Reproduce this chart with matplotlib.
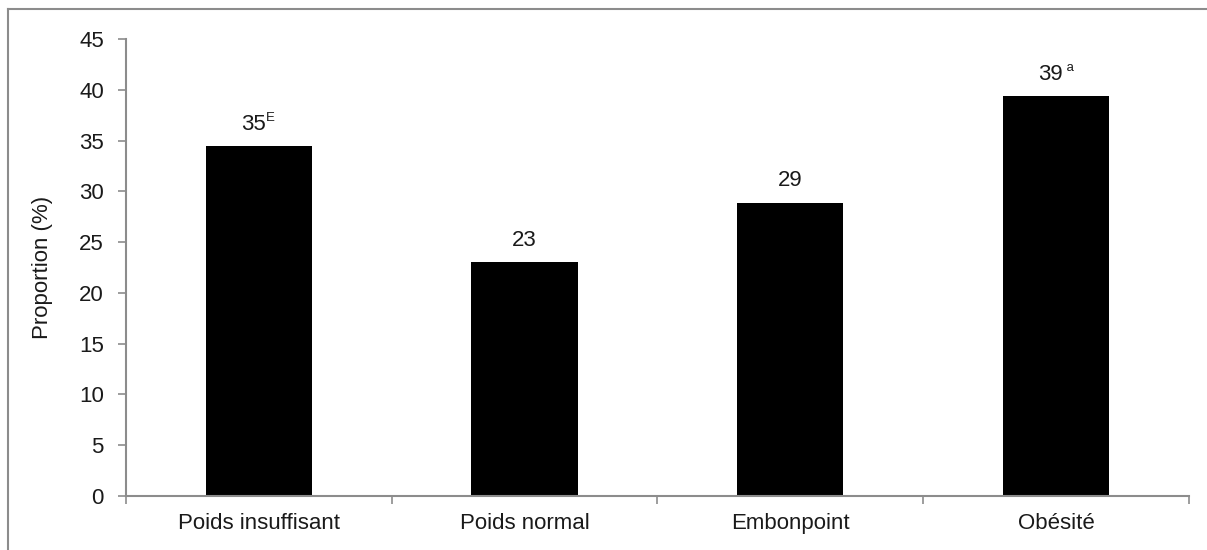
import matplotlib.pyplot as plt
from matplotlib.lines import Line2D

# Data
categories = ['Poids insuffisant', 'Poids normal', 'Embonpoint', 'Obésité']
values = [34.5, 23.0, 28.9, 39.4]
labels = ['35', '23', '29', '39']
notes = ['E', '', '', ' a']

plt.rcParams['font.family'] = ['Liberation Sans', 'DejaVu Sans']

grey = '#8c8c8c'
txt = '#1a1a1a'
fs = 16
fig = plt.figure(figsize=(12.07, 5.5), dpi=100)
ax = fig.add_axes([0.1044, 0.0982, 0.8806, 0.8308])

x = list(range(len(categories)))
ax.bar(x, values, width=0.4, color='black', zorder=2)

ax.set_xlim(-0.5, len(categories) - 0.5)
ax.set_ylim(0, 45)
ax.set_yticks(range(0, 50, 5))
ax.set_xticks([i - 0.5 for i in range(len(categories) + 1)], minor=False)
ax.set_xticklabels([])
ax.set_xticks(x, minor=True)
ax.set_xticklabels(categories, minor=True, fontsize=fs, color=txt)
ax.tick_params(axis='x', which='minor', length=0, pad=12)
ax.tick_params(axis='x', which='major', length=6, color=grey, width=1.2)
ax.tick_params(axis='y', length=6, color=grey, width=1.2, labelsize=fs,
               labelcolor=txt, pad=10)

for s in ['top', 'right']:
    ax.spines[s].set_visible(False)
for s in ['left', 'bottom']:
    ax.spines[s].set_color(grey)
    ax.spines[s].set_linewidth(1.5)

ax.set_ylabel('Proportion (%)', fontsize=fs, color=txt, labelpad=19)

# value labels with superscript notes
for xi, v, lab, note in zip(x, values, labels, notes):
    shift = -4 if note else 0
    t = ax.annotate(lab, xy=(xi, v), xytext=(shift, 8), textcoords='offset points',
                    ha='center', va='bottom', fontsize=fs, color=txt)
    if note:
        ax.annotate(note, xy=(1, 1), xycoords=t, xytext=(0, 1),
                    textcoords='offset points', ha='left', va='top',
                    fontsize=9.5, color=txt)

# partial frame around the chart
fig.add_artist(Line2D([8 / 1207, 8 / 1207], [0, 1 - 9 / 550], color=grey, lw=1.5,
                      transform=fig.transFigure))
fig.add_artist(Line2D([8 / 1207, 1], [1 - 9 / 550, 1 - 9 / 550], color=grey, lw=1.5,
                      transform=fig.transFigure))

fig.savefig('out.png', dpi=100)
